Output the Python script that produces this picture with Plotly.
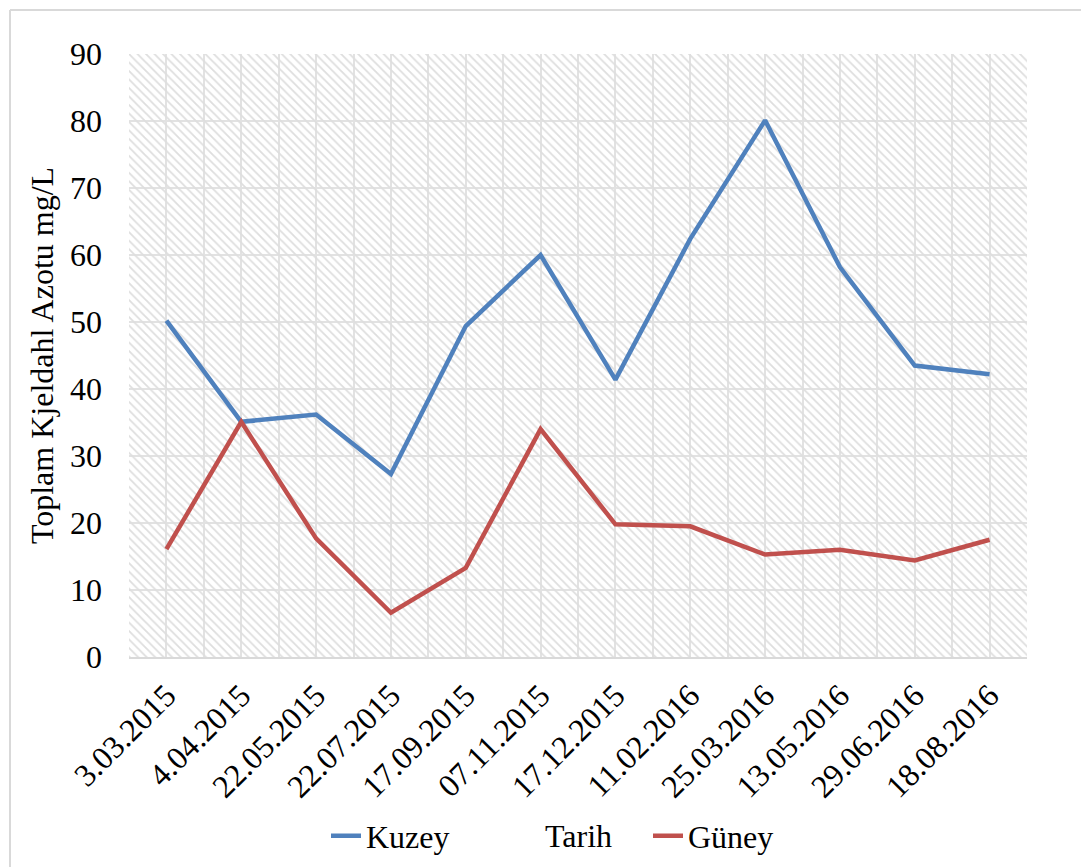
import plotly.graph_objects as go

dates = ["3.03.2015", "4.04.2015", "22.05.2015", "22.07.2015", "17.09.2015", "07.11.2015",
         "17.12.2015", "11.02.2016", "25.03.2016", "13.05.2016", "29.06.2016", "18.08.2016"]
kuzey = [50.2, 35.1, 36.2, 27.3, 49.4, 60.0, 41.4, 62.4, 80.1, 58.2, 43.5, 42.2]
guney = [16.1, 35.1, 17.7, 6.6, 13.3, 34.0, 19.8, 19.5, 15.3, 16.0, 14.4, 17.5]
y_ticks = [0, 10, 20, 30, 40, 50, 60, 70, 80, 90]

FONT = "Liberation Serif, Times New Roman, serif"
FS = 32
idx = list(range(len(dates)))

# page body has an 8px margin; plot area targeted at screen px 129..1027 x 54..657
L, T = 129 - 8, 54 - 8
R = 1089 + 8 - 1027
B = 867 + 8 - 657
PW, PH = 898, 603


def px_x(p):
    return (p - 129) / PW


def px_y(p):
    return (657 - p) / PH


fig = go.Figure()
# hatched plot background
fig.add_trace(go.Bar(
    x=[(len(dates) - 1) / 2], y=[max(y_ticks)], width=[len(dates)],
    marker=dict(color="rgba(0,0,0,0)", line=dict(width=0),
                pattern=dict(shape="\\", fgcolor="#dedede", bgcolor="rgba(0,0,0,0)",
                             size=6, solidity=0.3, fillmode="replace")),
    showlegend=False, hoverinfo="skip"))
fig.add_trace(go.Scatter(x=idx, y=kuzey, mode="lines", name="Kuzey",
                         line=dict(color="#4F81BD", width=4.5)))
fig.add_trace(go.Scatter(x=idx, y=guney, mode="lines", name="Güney",
                         line=dict(color="#C0504D", width=4.5)))

fig.update_layout(
    width=1089, height=867,
    margin=dict(l=L, r=R, t=T, b=B, autoexpand=False),
    paper_bgcolor="white", plot_bgcolor="white",
    font=dict(family=FONT, size=FS, color="black"),
    showlegend=True,
    legend=dict(orientation="h", x=px_x(326), xanchor="left",
                y=px_y(836), yanchor="middle",
                entrywidth=277, font=dict(family=FONT, size=FS),
                bgcolor="rgba(0,0,0,0)"),
    bargap=0,
    xaxis=dict(range=[-0.5, len(dates) - 0.5], tickmode="array", tickvals=idx, ticktext=dates,
               tickangle=-45, showgrid=True, gridcolor="#e2e2e2", gridwidth=1.5,
               tickfont=dict(family=FONT, size=FS),
               minor=dict(tickmode="linear", tick0=-0.5, dtick=1, showgrid=True,
                          gridcolor="#e2e2e2", gridwidth=1.5),
               showline=True, linecolor="#d9d9d9", linewidth=2, ticks="",
               ticklabelstandoff=5, zeroline=False, fixedrange=True),
    yaxis=dict(range=[0, 90], tickmode="array", tickvals=y_ticks,
               tickfont=dict(family=FONT, size=FS),
               showgrid=True, gridcolor="#e2e2e2", gridwidth=1.5, zeroline=False,
               ticks="", ticklabelstandoff=26, showline=False,
               title=dict(text="Toplam Kjeldahl Azotu mg/L", standoff=6,
                          font=dict(family=FONT, size=FS))),
    annotations=[dict(text="Tarih", xref="paper", yref="paper", x=px_x(578), y=px_y(836),
                      xanchor="center", yanchor="middle", showarrow=False,
                      font=dict(family=FONT, size=FS))],
    shapes=[dict(type="line", xref="paper", yref="paper", x0=px_x(10), x1=px_x(10),
                 y0=px_y(10), y1=px_y(900), line=dict(color="#d9d9d9", width=2)),
            dict(type="line", xref="paper", yref="paper", x0=px_x(10), x1=px_x(1100),
                 y0=px_y(10), y1=px_y(10), line=dict(color="#d9d9d9", width=2))],
)

fig.write_html("out.html")
